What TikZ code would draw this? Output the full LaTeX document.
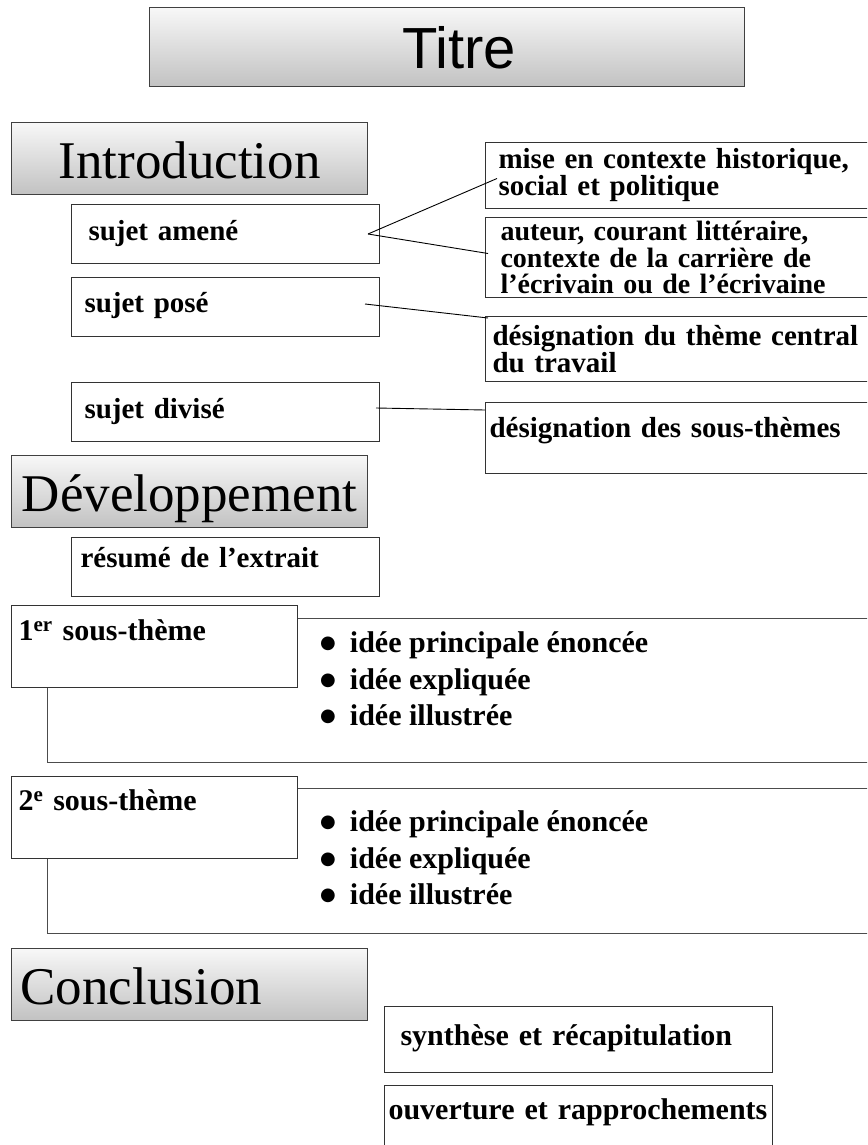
\documentclass[tikz,border=0pt]{standalone}
\usepackage{fontspec}
\setmainfont{Liberation Serif}
\newfontfamily\titrefont{Liberation Sans}
\newfontfamily\puce{DejaVu Sans}
\newcommand{\rond}{\raisebox{3.5pt}{\puce\fontsize{18}{18}\selectfont ●}}
\usetikzlibrary{positioning,calc}

\begin{document}
\begin{tikzpicture}[x=1pt, y=-1pt]
    \tikzstyle{section} = [rectangle, draw=black!75, line width=1.2pt, top color=white!97!black, bottom color=black!24, anchor=north west, inner sep=0pt, minimum width=356pt, minimum height=72pt, text height=56pt, text depth=16pt, font=\fontsize{53}{60}\selectfont]
    \tikzstyle{champ} = [rectangle, draw=black!80, line width=1pt, fill=white, anchor=north west, align=left, inner ysep=0pt, font=\bfseries\fontsize{29}{27}\selectfont]
    \tikzstyle{petit} = [champ, font=\bfseries\fontsize{30}{34}\selectfont]
    \tikzstyle{idee} = [anchor=base west, inner sep=0pt, font=\bfseries\fontsize{30}{34}\selectfont]
    \tikzstyle{line} = [draw, line width=0.9pt]
    \tikzstyle{cadre} = [draw=black!70, line width=1pt]

    \useasboundingbox (0,0) rectangle (867,1145);
    \clip (0,0) rectangle (867,1145);

    % titre et sections
    \node [section, minimum width=595pt, minimum height=79pt, text height=61pt, text depth=18pt, font=\titrefont\fontsize{58}{60}\selectfont] (titre) at (149,7) {\hspace*{24pt}Titre};
    \node [section] (intro) at (11,122) {Introduction};
    \node [section] (devel) at (11,455) {Développement};
    \node [section, inner xsep=9pt, text width=338pt, align=left] (concl) at (11,948) {Conclusion};

    % introduction
    \node [champ, inner xsep=17pt, text width=274pt, text height=36pt, text depth=23pt] (amene) at (71,204) {sujet amené};
    \node [champ, inner xsep=13pt, text width=282pt, text height=35pt, text depth=24pt] (pose) at (71,277) {sujet posé};
    \node [champ, inner xsep=13pt, text width=282pt, text height=36pt, text depth=23pt] (divise) at (71,382) {sujet divisé};

    \node [champ, inner xsep=13pt, text width=380pt, minimum height=66pt] (contexte) at (485,142) {mise en contexte historique,\\social et politique};
    \node [champ, inner xsep=15pt, text width=376pt, minimum height=80pt, font=\bfseries\fontsize{28}{26.5}\selectfont] (auteur) at (485,217) {auteur, courant littéraire,\\contexte de la carrière de\\l’écrivain ou de l’écrivaine};
    \node [champ, inner xsep=7pt, text width=392pt, minimum height=65pt] (theme) at (485,316) {désignation du thème central\\du travail};
    \node [champ, inner xsep=4pt, text width=398pt, text height=35pt, text depth=36pt] (soustheme) at (485,402) {désignation des sous-thèmes};

    \path [line] ([xshift=-12pt]amene.east) -- ([xshift=12pt,yshift=-3pt]contexte.west);
    \path [line] ([xshift=-12pt]amene.east) -- ([xshift=3pt,yshift=4pt]auteur.west);
    \path [line] ([xshift=-15pt,yshift=3pt]pose.east) -- ([xshift=3pt,yshift=-2pt]theme.north west);
    \path [line] ([xshift=-4pt,yshift=4pt]divise.east) -- ([yshift=-8pt]soustheme.north west);

    % developpement
    \node [champ, inner xsep=9pt, text width=290pt, text height=30pt, text depth=29pt] (resume) at (71,537) {résumé de l’extrait};

    \node [petit, inner xsep=7pt, text width=272pt, text height=35pt, text depth=47pt] (st1) at (11,605) {1\textsuperscript{er} sous-thème};
    \node [petit, inner xsep=7pt, text width=272pt, text height=34pt, text depth=48pt] (st2) at (11,776) {2\textsuperscript{e} sous-thème};

    \coordinate (cadre1) at (880,762);
    \coordinate (cadre2) at (880,933);
    \path [cadre] ([yshift=-13pt]st1.north east) -| (cadre1) -| ([xshift=36pt]st1.south west);
    \path [cadre] ([yshift=-12pt]st2.north east) -| (cadre2) -| ([xshift=36pt]st2.south west);

    \foreach \n/\y in {1/652, 2/831} {
        \node [idee] (idee\n a) at (320,\y) {\rond\hspace{14pt}idée principale énoncée};
        \node [idee] (idee\n b) at (320,\y+37) {\rond\hspace{14pt}idée expliquée};
        \node [idee] (idee\n c) at (320,\y+73) {\rond\hspace{14pt}idée illustrée};
    }

    % conclusion
    \node [petit, inner xsep=16pt, text width=356pt, text height=39pt, text depth=27pt] (synthese) at (384,1006) {synthèse et récapitulation};
    \node [petit, inner xsep=4pt, text width=380pt, text height=34pt, text depth=46pt] (ouverture) at (384,1085) {ouverture et rapprochements};
\end{tikzpicture}
\end{document}
